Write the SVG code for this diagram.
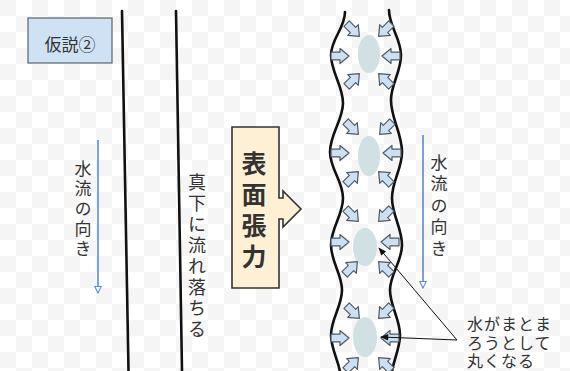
<svg xmlns="http://www.w3.org/2000/svg" xmlns:xlink="http://www.w3.org/1999/xlink" width="570" height="371" viewBox="0 0 570 371">
  <defs>
    <pattern id="checker" width="32" height="32" patternUnits="userSpaceOnUse">
      <rect width="32" height="32" fill="#ffffff"/>
      <rect width="16" height="16" fill="#f5f5f5"/>
      <rect x="16" y="16" width="16" height="16" fill="#f5f5f5"/>
    </pattern>
    <!-- small block arrow pointing right, centred on the origin -->
    <path id="push" d="M-9,-3.8 H0 V-7.5 L9,0 L0,7.5 V3.8 H-9 Z"/>
    <marker id="openTip" viewBox="0 0 10 10" refX="9" refY="5" markerWidth="8" markerHeight="8" orient="auto" markerUnits="userSpaceOnUse">
      <path d="M1,1 L9,5 L1,9 Z" fill="#ffffff" stroke="#5b8ad6" stroke-width="1.3"/>
    </marker>
    <marker id="solidTip" viewBox="0 0 10 10" refX="9" refY="5" markerWidth="9" markerHeight="8" orient="auto" markerUnits="userSpaceOnUse">
      <path d="M0,1 L10,5 L0,9 Z" fill="#111111"/>
    </marker>
  </defs>
  <style>
    .txt { font-family: "Noto Sans CJK JP", "Noto Sans", sans-serif; fill: #333333; }
    .vert { writing-mode: vertical-rl; text-anchor: start; }
    .wall { fill: none; stroke: #111111; stroke-width: 2.6; stroke-linecap: round; }
    .flow { fill: none; stroke: #5b8ad6; stroke-width: 1.6; marker-end: url(#openTip); }
    .push { fill: #cde0f2; stroke: #4e5966; stroke-width: 1.2; stroke-linejoin: round; }
    .drop { fill: #d0e0e3; }
    .call { fill: none; stroke: #111111; stroke-width: 1; marker-end: url(#solidTip); }
  </style>

  <rect width="570" height="371" fill="url(#checker)"/>

  <!-- title tag -->
  <g id="title">
    <rect x="28" y="18" width="84" height="45" fill="#cfe2f3" stroke="#5f6f7f" stroke-width="1.3"/>
    <text class="txt" x="70" y="51" font-size="17" text-anchor="middle">仮説②</text>
  </g>

  <!-- straight stream walls -->
  <g id="stream">
    <line class="wall" x1="122" y1="11" x2="128.5" y2="371"/>
    <line class="wall" x1="176" y1="11" x2="182" y2="371"/>
  </g>

  <!-- wavy stream walls -->
  <g id="tube">
    <path class="wall" d="M345,12 C345,28 331,39 331,55 C331,72 343,86 343,103 C343,120 330,134 330,152 C330,169 343,181 343,198 C343,215 331,228 331,245 C331,262 342,274 342,290 C342,306 331,319 331,335 C331,351 341,364 341,380"/>
    <path class="wall" d="M389,10 C389,26 401,39 401,55 C401,72 391,84 391,100 C391,119 402,133 402,152 C402,169 392,181 392,198 C392,215 402,228 402,245 C402,262 390,274 390,290 C390,306 400,319 400,335 C400,351 391,364 391,380"/>
  </g>

  <!-- droplets with inward pushes -->
  <g id="drop1">
    <ellipse class="drop" cx="369" cy="54" rx="11" ry="19"/>
    <use href="#push" class="push" transform="translate(353,30) rotate(45)"/>
    <use href="#push" class="push" transform="translate(340,56) rotate(0)"/>
    <use href="#push" class="push" transform="translate(353,80) rotate(-45)"/>
    <use href="#push" class="push" transform="translate(385,30) rotate(135)"/>
    <use href="#push" class="push" transform="translate(391,56) rotate(180)"/>
    <use href="#push" class="push" transform="translate(385,80) rotate(-135)"/>
  </g>
  <g id="drop2">
    <ellipse class="drop" cx="369" cy="156" rx="11" ry="20"/>
    <use href="#push" class="push" transform="translate(352,128) rotate(45)"/>
    <use href="#push" class="push" transform="translate(340,153) rotate(0)"/>
    <use href="#push" class="push" transform="translate(352,178) rotate(-45)"/>
    <use href="#push" class="push" transform="translate(386,128) rotate(135)"/>
    <use href="#push" class="push" transform="translate(392,153) rotate(180)"/>
    <use href="#push" class="push" transform="translate(385,178) rotate(-135)"/>
  </g>
  <g id="drop3">
    <ellipse class="drop" cx="365" cy="247" rx="12" ry="19"/>
    <use href="#push" class="push" transform="translate(352,215) rotate(45)"/>
    <use href="#push" class="push" transform="translate(340,242) rotate(0)"/>
    <use href="#push" class="push" transform="translate(351,268) rotate(-45)"/>
    <use href="#push" class="push" transform="translate(385,215) rotate(135)"/>
    <use href="#push" class="push" transform="translate(390,242) rotate(180)"/>
    <use href="#push" class="push" transform="translate(385,268) rotate(-135)"/>
  </g>
  <g id="drop4">
    <ellipse class="drop" cx="365" cy="337" rx="12" ry="20"/>
    <use href="#push" class="push" transform="translate(353,312) rotate(45)"/>
    <use href="#push" class="push" transform="translate(340,338) rotate(0)"/>
    <use href="#push" class="push" transform="translate(352,364) rotate(-45)"/>
    <use href="#push" class="push" transform="translate(385,312) rotate(135)"/>
    <use href="#push" class="push" transform="translate(390,338) rotate(180)"/>
    <use href="#push" class="push" transform="translate(385,364) rotate(-135)"/>
  </g>

  <!-- surface tension block arrow -->
  <g id="tension">
    <path d="M232,127 H279 V198 H283 V191 L301,209 L283,227 V219 H279 V288 H232 Z" fill="#fdf0d4" stroke="#333333" stroke-width="1.6" stroke-linejoin="miter"/>
    <text class="txt vert" x="254" y="151" font-size="25" font-weight="bold" letter-spacing="6" fill="#222222">表面張力</text>
  </g>

  <!-- labels -->
  <g id="flowLeft">
    <text class="txt vert" x="83" y="160" font-size="17" letter-spacing="3">水流の向き</text>
  </g>
  <g id="fallLabel">
    <text class="txt vert" x="197" y="173" font-size="18" letter-spacing="3">真下に流れ落ちる</text>
  </g>
  <g id="flowRight">
    <text class="txt vert" x="439" y="154" font-size="17" letter-spacing="4.5">水流の向き</text>
  </g>
  <g id="note">
    <text class="txt" x="467" y="330" font-size="16" letter-spacing="1">水がまとま</text>
    <text class="txt" x="467" y="349" font-size="16" letter-spacing="1">ろうとして</text>
    <text class="txt" x="467" y="367" font-size="16" letter-spacing="1">丸くなる</text>
  </g>

  <!-- connectors -->
  <g id="connectors">
    <line class="flow" x1="98" y1="140" x2="98" y2="293"/>
    <line class="flow" x1="423" y1="135" x2="423" y2="288"/>
    <line class="call" x1="457" y1="340" x2="379" y2="248"/>
    <line class="call" x1="457" y1="340" x2="381" y2="337"/>
  </g>
</svg>
